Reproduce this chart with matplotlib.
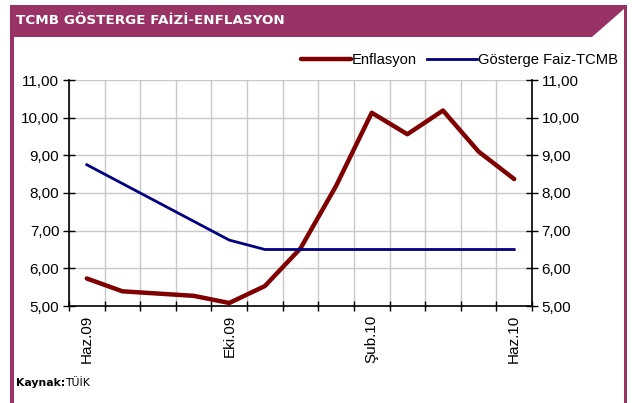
import matplotlib
matplotlib.use("Agg")
import matplotlib.pyplot as plt
from matplotlib.patches import Polygon, Rectangle
import numpy as np

W, H = 632, 403
PURPLE = "#993366"
RED, NAVY = "#800000", "#000080"

months = ["Haz.09", "Tem.09", "Ağu.09", "Eyl.09", "Eki.09", "Kas.09", "Ara.09",
          "Oca.10", "Şub.10", "Mar.10", "Nis.10", "May.10", "Haz.10"]
enflasyon = [5.73, 5.39, 5.33, 5.27, 5.08, 5.53, 6.53, 8.19, 10.13, 9.56, 10.19, 9.10, 8.37]
gosterge = [8.75, 8.25, 7.75, 7.25, 6.75, 6.50, 6.50, 6.50, 6.50, 6.50, 6.50, 6.50, 6.50]
label_idx = [0, 4, 8, 12]

plt.rcParams.update({"font.family": ["Liberation Sans", "DejaVu Sans"], "font.size": 11})

fig = plt.figure(figsize=(W / 100, H / 100), dpi=100)


def fx(px):
    return px / W


def fy(py):
    return 1 - py / H


# frame: title bar with cut corner, side borders
fig.patches.append(Polygon([(fx(10), fy(5)), (fx(624), fy(5)), (fx(624), fy(9)),
                            (fx(592), fy(37)), (fx(10), fy(37))],
                           closed=True, transform=fig.transFigure, color=PURPLE, lw=0))
fig.patches.append(Rectangle((fx(10), 0), fx(3.5), fy(5), transform=fig.transFigure,
                             color=PURPLE, lw=0))
fig.patches.append(Rectangle((fx(623.5), 0), fx(3.5), fy(5), transform=fig.transFigure,
                             color=PURPLE, lw=0))
fig.text(fx(16), fy(21), "TCMB GÖSTERGE FAİZİ-ENFLASYON", color="white",
         fontsize=9.7, fontweight="bold", family="DejaVu Sans", va="center", ha="left")
fig.text(fx(16), fy(383), "Kaynak:", fontsize=7.8, fontweight="bold",
         family="DejaVu Sans", va="center", ha="left")
fig.text(fx(65), fy(383), "TÜİK", fontsize=7.8, family="DejaVu Sans", va="center", ha="left")

ax = fig.add_axes([fx(69), fy(306), fx(532 - 69), fy(80) - fy(306)])
x = np.arange(len(months))
ax.plot(x, enflasyon, color=RED, lw=3.2, label="Enflasyon", solid_capstyle="round")
ax.plot(x, gosterge, color=NAVY, lw=2.0, label="Gösterge Faiz-TCMB")

ax.set_xlim(-0.5, len(months) - 0.5)
ax.set_ylim(5, 11)
ax.set_yticks(np.arange(5, 11.01, 1))
ax.set_yticklabels([f"{v:.2f}".replace(".", ",") for v in np.arange(5, 11.01, 1)])
ax.set_xticks(np.arange(-0.5, len(months), 1), minor=True)
ax.set_xticks(label_idx)
ax.set_xticklabels([months[i] for i in label_idx], rotation=90)
ax.tick_params(axis="x", which="major", length=0, pad=6)
ax.tick_params(axis="x", which="minor", direction="inout", length=7, width=1)
ax.tick_params(axis="y", direction="inout", length=8, width=1, right=True,
               labelright=True, pad=3)
ax.grid(True, which="minor", axis="x", color="#c8c8c8", lw=1)
ax.grid(True, which="major", axis="y", color="#c8c8c8", lw=1)
ax.set_axisbelow(True)
ax.spines["top"].set_visible(False)
for s in ("left", "right", "bottom"):
    ax.spines[s].set_linewidth(1.2)

ax.legend(loc="lower right", bbox_to_anchor=(fx(618), fy(67)), bbox_transform=fig.transFigure,
          ncol=2, frameon=False, handlelength=3.4, handletextpad=0.05, columnspacing=0.7,
          borderaxespad=0, borderpad=0, fontsize=10.6)

fig.savefig("out.png", dpi=100)
